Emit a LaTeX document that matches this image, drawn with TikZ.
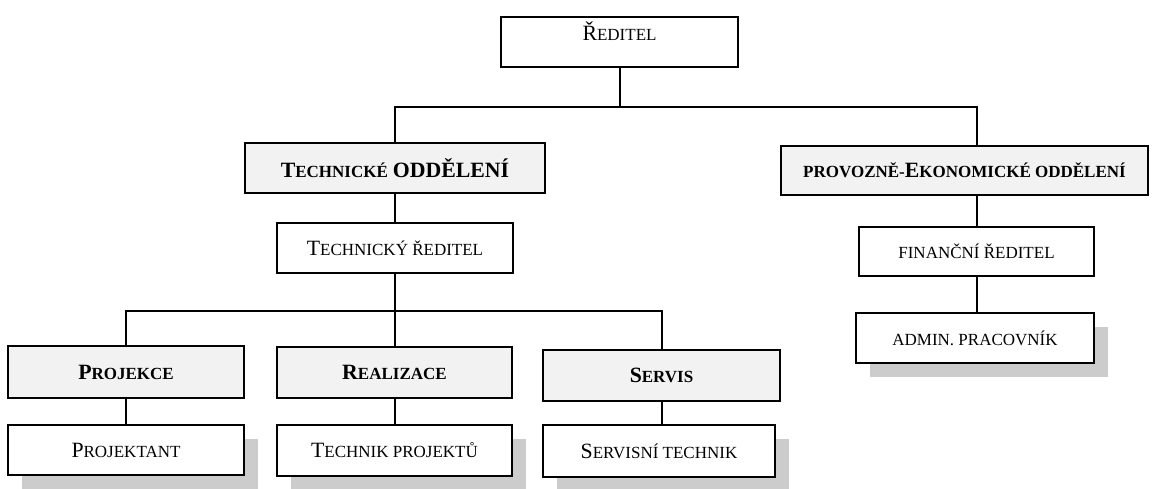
\documentclass[tikz,border=0pt]{standalone}
\usepackage{fontspec}
\setmainfont{Liberation Serif}
\usetikzlibrary{shadows}
\definecolor{HeadClr}{gray}{0.95}
\definecolor{ShadowClr}{gray}{0.8}
\newcommand{\bigc}[1]{{\fontsize{10.9}{12}\selectfont #1}}
\newcommand{\smc}[1]{{\fontsize{8.5}{10}\selectfont #1}}

\begin{document}
\begin{tikzpicture}[x=0.5pt,y=-0.5pt,
  box/.style={draw,line width=1pt,inner sep=0pt,align=center,fill=white},
  head/.style={box,fill=HeadClr,font=\bfseries},
  staff/.style={box,drop shadow={shadow xshift=7pt,shadow yshift=-7pt,fill=ShadowClr,opacity=1}},
  link/.style={line width=1pt}]
\useasboundingbox (0,0) rectangle (1160,488);

\node[box,minimum width=118.5pt,minimum height=25pt,text height=8pt,text depth=10pt] (red) at (619.5,42) {\bigc{Ř}\smc{EDITEL}};

\node[head,minimum width=150pt,minimum height=25pt] (tech) at (395,168) {\bigc{T}\smc{ECHNICKÉ} \bigc{ODDĚLENÍ}};
\node[box,minimum width=118pt,minimum height=25pt] (techred) at (395,248) {\bigc{T}\smc{ECHNICKÝ ŘEDITEL}};

\node[head,minimum width=183.5pt,minimum height=24.5pt] (prov) at (964.5,170.5) {\smc{PROVOZNĚ-}\bigc{E}\smc{KONOMICKÉ ODDĚLENÍ}};
\node[box,minimum width=117.5pt,minimum height=24.5pt] (fin) at (976.5,251.5) {\smc{FINANČNÍ ŘEDITEL}};
\node[staff,minimum width=119pt,minimum height=25pt] (admin) at (975,338) {\smc{ADMIN. PRACOVNÍK}};

\node[head,minimum width=118pt,minimum height=26pt] (proj) at (126,372) {\bigc{P}\smc{ROJEKCE}};
\node[head,minimum width=117.5pt,minimum height=25.5pt] (real) at (394.5,372.5) {\bigc{R}\smc{EALIZACE}};
\node[head,minimum width=118.5pt,minimum height=25.5pt] (serv) at (661.5,375.5) {\bigc{S}\smc{ERVIS}};

\node[staff,minimum width=118pt,minimum height=25pt] (projt) at (126,450) {\bigc{P}\smc{ROJEKTANT}};
\node[staff,minimum width=117.5pt,minimum height=25.5pt] (techp) at (394.5,450.5) {\bigc{T}\smc{ECHNIK PROJEKTŮ}};
\node[staff,minimum width=116pt,minimum height=26pt] (servt) at (659,451) {\bigc{S}\smc{ERVISNÍ TECHNIK}};

\coordinate (topbar) at (0,107);
\coordinate (midbar) at (0,311);

\draw[link] (red.south) -- (red.south |- topbar);
\draw[link] (tech.north) |- (topbar -| fin.north) -- (fin.north |- prov.north);
\draw[link] (tech.south) -- (techred.north);
\draw[link] (fin.north |- prov.south) -- (fin.north);
\draw[link] (fin.south) -- (fin.south |- admin.north);
\draw[link] (techred.south) -- (techred.south |- midbar);
\draw[link] (proj.north) |- (serv.north |- midbar) -- (serv.north);
\draw[link] (real.north) -- (real.north |- midbar);
\draw[link] (proj.south) -- (projt.north);
\draw[link] (real.south) -- (techp.north);
\draw[link] (serv.south) -- (serv.south |- servt.north);
\end{tikzpicture}
\end{document}
